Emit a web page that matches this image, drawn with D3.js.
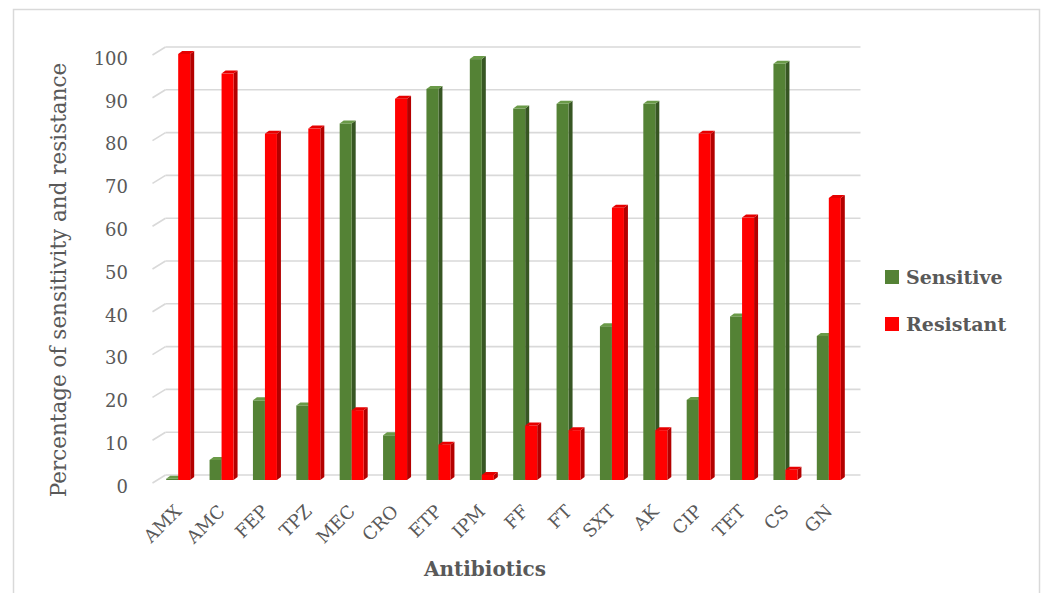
<!DOCTYPE html>
<html><head><meta charset="utf-8">
<script src="https://cdn.jsdelivr.net/npm/d3@7"></script>
<style>body{margin:0;background:#fff}svg{display:block}</style>
</head><body>
<svg id="c" width="1043" height="593"></svg>
<script>
const categories = ["AMX","AMC","FEP","TPZ","MEC","CRO","ETP","IPM","FF","FT","SXT","AK","CIP","TET","CS","GN"];
const sensitive = [0.3,4.7,18.7,17.5,83.7,10.5,91.8,98.8,87.2,88.3,36.1,88.3,18.8,38.4,97.7,33.8];
const resistant = [100,95.4,81.3,82.5,16.4,89.5,8.3,1.2,12.8,11.7,63.9,11.7,81.3,61.6,2.4,66.2];
const yTicks = [0,10,20,30,40,50,60,70,80,90,100];
const seriesNames = ["Sensitive","Resistant"];

const svg = d3.select("#c");
const font = "'DejaVu Serif', serif";
const txt = "#595959";
const colors = {Sensitive:{front:"#548235",side:"#375623",top:"#6a9a48"}, Resistant:{front:"#ff0000",side:"#b40000",top:"#e60000"}};

// outer frame
svg.append("rect").attr("x",13.5).attr("y",9.5).attr("width",1026).attr("height",600)
  .attr("fill","none").attr("stroke","#d9d9d9").attr("stroke-width",1.5);

const yBack = d3.scaleLinear().domain([0,100]).range([475,47]);
const yBar = d3.scaleLinear().domain([0,100]).range([480,54]);
const x = d3.scaleBand().domain(categories).range([156.5,850.5]).padding(0);
const bw = x.bandwidth();
const xs = d3.scaleBand().domain(seriesNames).range([bw/2-12, bw/2+12]);
const depthX = 11, depthY = 8;

// gridlines on back wall + diagonal side
const g = svg.append("g");
yTicks.forEach(t=>{
  g.append("line").attr("x1",x.range()[0]+depthX-2).attr("x2",x.range()[1]+10).attr("y1",yBack(t)).attr("y2",yBack(t))
    .attr("stroke","#d9d9d9").attr("stroke-width",1.6);
  g.append("line").attr("x1",x.range()[0]-4).attr("y1",yBack(t)+depthY).attr("x2",x.range()[0]+depthX-2).attr("y2",yBack(t))
    .attr("stroke","#d9d9d9").attr("stroke-width",1.6);
  g.append("text").attr("x",128).attr("y",yBack(t)+11.5).attr("dy","0.35em").attr("text-anchor","end")
    .attr("font-family",font).attr("font-size",18).attr("fill",txt).text(t);
});

// bars
const sx = 4, sy = 3, w = xs.bandwidth();
const data = [];
categories.forEach((c,i)=>{
  data.push({c, s:"Sensitive", v:sensitive[i]});
  data.push({c, s:"Resistant", v:resistant[i]});
});
const bars = svg.append("g");
data.forEach(d=>{
  const x0 = x(d.c)+xs(d.s), x1 = x0+w, yt = yBar(d.v), yb = yBar(0);
  const col = colors[d.s];
  bars.append("path").attr("d",`M${x1},${yb} L${x1+sx},${yb-sy} L${x1+sx},${yt-sy} L${x1},${yt} Z`).attr("fill",col.side);
  bars.append("rect").attr("x",x0).attr("y",yt).attr("width",w).attr("height",Math.max(0,yb-yt)).attr("fill",col.front);
  bars.append("path").attr("d",`M${x0},${yt} L${x0+sx},${yt-sy} L${x1+sx},${yt-sy} L${x1},${yt} Z`).attr("fill",col.top);
});

// x labels
categories.forEach(c=>{
  const cx = x(c)+bw/2;
  svg.append("text").attr("transform",`translate(${cx},${508}) rotate(-45)`).attr("text-anchor","end")
    .attr("dy","0.35em").attr("font-family",font).attr("font-size",18).attr("fill",txt).text(c);
});

// axis titles
svg.append("text").attr("x",485).attr("y",576).attr("text-anchor","middle").attr("font-family",font)
  .attr("font-weight","bold").attr("font-size",20).attr("fill",txt).text("Antibiotics");
svg.append("text").attr("transform","translate(66,280) rotate(-90)").attr("text-anchor","middle").attr("font-family",font)
  .attr("font-size",21.5).attr("fill",txt).text("Percentage of sensitivity and resistance");

// legend
seriesNames.forEach((s,i)=>{
  const ly = 270 + i*47;
  svg.append("rect").attr("x",885).attr("y",ly).attr("width",14).attr("height",14).attr("fill",colors[s].front);
  svg.append("text").attr("x",906).attr("y",ly+7).attr("dy","0.35em").attr("font-family",font).attr("font-weight","bold")
    .attr("font-size",19).attr("fill",txt).text(s);
});
</script>
</body></html>
